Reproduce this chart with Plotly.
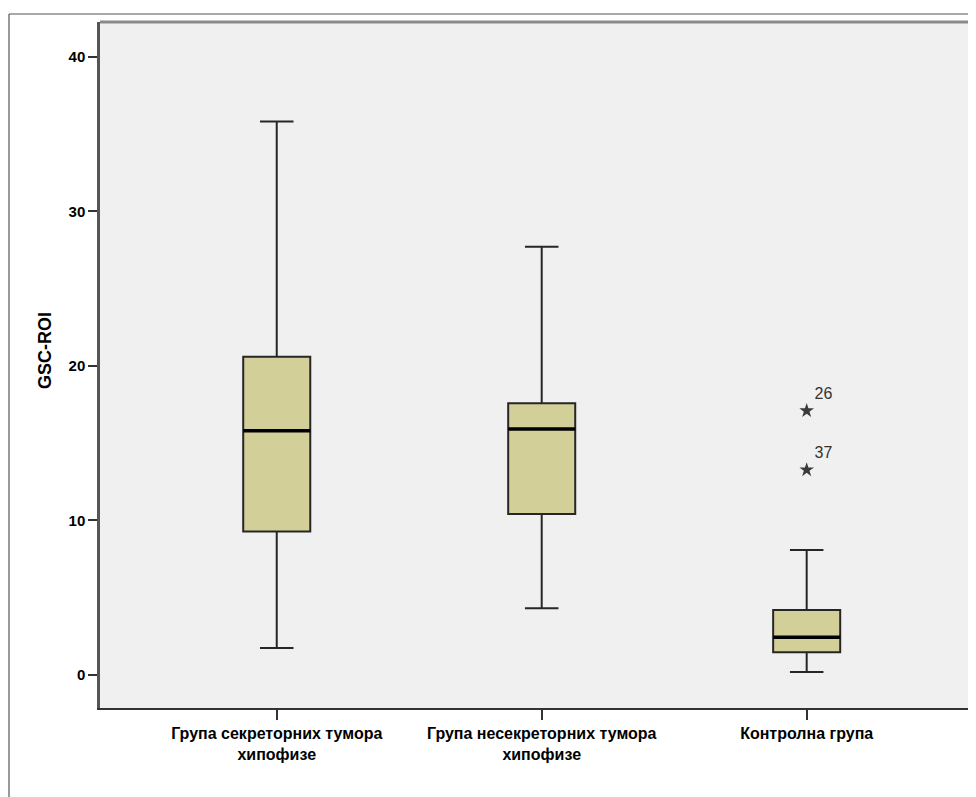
import plotly.graph_objects as go

# ---- data ----
categories = ["Група секреторних тумора<br>хипофизе",
              "Група несекреторних тумора<br>хипофизе",
              "Контролна група"]
positions = [0, 1, 2]
q1 = [9.28, 10.42, 1.47]
median = [15.81, 15.92, 2.44]
q3 = [20.60, 17.59, 4.20]
lower_whisker = [1.75, 4.31, 0.19]
upper_whisker = [35.82, 27.72, 8.09]

outlier_group = [2, 2]
outlier_values = [17.10, 13.27]
outlier_ids = ["26", "37"]

y_ticks = [0, 10, 20, 30, 40]

# ---- style ----
FONT = "Liberation Sans, Arial, sans-serif"
BOX_FILL = "#D3CF98"
BOX_W = 0.253
PLOT_W, PLOT_H = 876, 686

fig = go.Figure()

for i in range(len(categories)):
    fig.add_trace(go.Box(
        x=[positions[i]],
        q1=[q1[i]], median=[median[i]], q3=[q3[i]],
        lowerfence=[lower_whisker[i]], upperfence=[upper_whisker[i]],
        width=BOX_W, whiskerwidth=0.5,
        fillcolor=BOX_FILL,
        line=dict(color="#262626", width=2),
        boxpoints=False, hoverinfo="skip", showlegend=False,
    ))
    # thick median line overlay
    fig.add_trace(go.Scatter(
        x=[positions[i] - BOX_W / 2, positions[i] + BOX_W / 2],
        y=[median[i], median[i]],
        mode="lines", line=dict(color="black", width=3.5),
        hoverinfo="skip", showlegend=False,
    ))

fig.add_trace(go.Scatter(
    x=[positions[g] for g in outlier_group],
    y=outlier_values,
    mode="markers+text",
    marker=dict(symbol="star", size=11, color="#3a3a3a"),
    text=outlier_ids,
    textposition="top right",
    textfont=dict(family=FONT, size=16, color="#333333"),
    hoverinfo="skip", showlegend=False,
))

fig.update_layout(
    width=968, height=789,
    margin=dict(l=92, r=0, t=14, b=89),
    paper_bgcolor="white",
    plot_bgcolor="#F0F0F0",
    font=dict(family=FONT, color="black"),
    xaxis=dict(
        range=[-0.667, 2.639],
        tickmode="array", tickvals=positions, ticktext=categories,
        ticks="outside", ticklen=10, tickwidth=2, tickcolor="#333333",
        tickfont=dict(family=FONT, size=16, weight="bold", color="black"),
        showgrid=False, zeroline=False,
        showline=True, linecolor="#333333", linewidth=2,
    ),
    yaxis=dict(
        range=[-2.14, 42.26],
        tickmode="array", tickvals=y_ticks,
        ticks="outside", ticklen=9, tickwidth=2, tickcolor="#333333",
        tickfont=dict(family=FONT, size=15, weight="bold", color="black"),
        showgrid=False, zeroline=False,
        showline=True, linecolor="#555555", linewidth=2.5,
    ),
    annotations=[dict(
        text="GSC-ROI", textangle=-90,
        xref="paper", yref="paper",
        x=(45 - 100) / PLOT_W, y=(708 - 351) / PLOT_H,
        xanchor="center", yanchor="middle",
        showarrow=False,
        font=dict(family=FONT, size=18, weight="bold", color="black"),
    )],
    shapes=[
        # top border of plot area
        dict(type="line", xref="paper", yref="paper", x0=0, x1=1, y0=1, y1=1,
             line=dict(color="#8a8a8a", width=3)),
        # outer frame
        dict(type="line", xref="paper", yref="paper",
             x0=(9 - 100) / PLOT_W, x1=1.01, y0=1 + 8 / PLOT_H, y1=1 + 8 / PLOT_H,
             line=dict(color="#555555", width=1.2)),
        dict(type="line", xref="paper", yref="paper",
             x0=(9 - 100) / PLOT_W, x1=(9 - 100) / PLOT_W, y0=1 + 8 / PLOT_H, y1=-0.15,
             line=dict(color="#555555", width=1.2)),
    ],
)

fig.write_html("out.html")
